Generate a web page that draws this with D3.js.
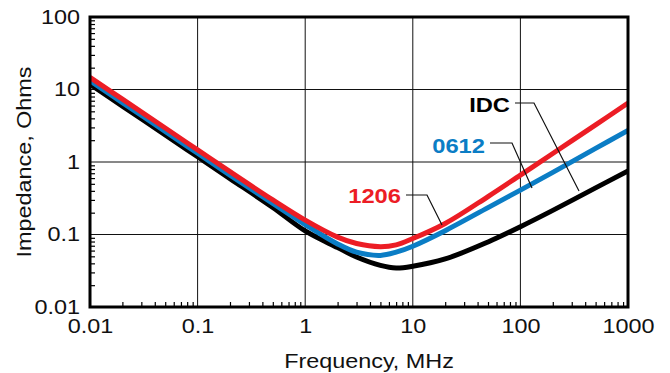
<!DOCTYPE html>
<html>
<head>
<meta charset="utf-8">
<script src="https://cdn.jsdelivr.net/npm/d3@7"></script>
<style>
  body { margin: 0; background: #fff; }
  svg { display: block; }
  text { font-family: "Liberation Sans", Arial, sans-serif; }
</style>
</head>
<body>
<svg id="chart" width="670" height="373"></svg>
<script>
// frequency points, MHz
var freqs = [0.01, 0.02, 0.05, 0.1, 0.2, 0.5, 1, 2, 3, 5, 7, 10, 20, 50, 100, 200, 500, 1000];

// impedance readings, ohms
var z1206 = [14.7, 7.35, 2.94, 1.47, 0.735, 0.30, 0.158, 0.092, 0.075, 0.068, 0.072, 0.088, 0.142, 0.334, 0.66, 1.31, 3.25, 6.5];
var z0612 = [13.2, 6.6, 2.64, 1.32, 0.66, 0.268, 0.137, 0.074, 0.057, 0.0515, 0.057, 0.069, 0.113, 0.235, 0.41, 0.72, 1.54, 2.72];
var zIDC  = [11.8, 5.9, 2.36, 1.18, 0.59, 0.236, 0.112, 0.066, 0.049, 0.0375, 0.0345, 0.0365, 0.046, 0.079, 0.128, 0.215, 0.44, 0.75];

var xTicks = [0.01, 0.1, 1, 10, 100, 1000];
var xTickLabels = ["0.01", "0.1", "1", "10", "100", "1000"];
var yTicks = [0.01, 0.1, 1, 10, 100];
var yTickLabels = ["0.01", "0.1", "1", "10", "100"];

var series = [
    {name: "IDC",  values: zIDC,  color: "#000000"},
    {name: "0612", values: z0612, color: "#0b7dc5"},
    {name: "1206", values: z1206, color: "#ec1d25"}
];

var svg = d3.select("#chart");
var plotLeft = 90, plotRight = 628, plotTop = 17, plotBottom = 307;
var stretch = 1.2;   // the type in the original runs wide

var x = d3.scaleLog().domain([0.01, 1000]).range([plotLeft, plotRight]);
var y = d3.scaleLog().domain([0.01, 100]).range([plotBottom, plotTop]);

// minor tick values 2..9 per decade
var xMinor = [], yMinor = [];
for (var d = 0.01; d < 999; d *= 10) {
    for (var k = 2; k <= 9; k++) xMinor.push(+(d * k).toPrecision(3));
}
for (var d2 = 0.01; d2 < 99; d2 *= 10) {
    for (var k2 = 2; k2 <= 9; k2++) yMinor.push(+(d2 * k2).toPrecision(3));
}

// grid lines at decades
var grid = svg.append("g").attr("stroke", "#111").attr("stroke-width", 1);
grid.selectAll("line.v")
    .data(xTicks.slice(1, -1))
    .enter().append("line")
    .attr("class", "v")
    .attr("x1", function(d) { return x(d); })
    .attr("x2", function(d) { return x(d); })
    .attr("y1", plotTop).attr("y2", plotBottom);
grid.selectAll("line.h")
    .data(yTicks.slice(1, -1))
    .enter().append("line")
    .attr("class", "h")
    .attr("y1", function(d) { return y(d); })
    .attr("y2", function(d) { return y(d); })
    .attr("x1", plotLeft).attr("x2", plotRight);

// minor ticks, pointing inward
svg.append("g")
    .attr("transform", "translate(0," + plotBottom + ")")
    .call(d3.axisBottom(x).tickValues(xMinor).tickSize(-5).tickFormat(""))
    .call(function(g) {
        g.select(".domain").remove();
        g.selectAll("line").attr("stroke", "#000").attr("stroke-width", 1.2);
    });
svg.append("g")
    .attr("transform", "translate(" + plotLeft + ",0)")
    .call(d3.axisLeft(y).tickValues(yMinor).tickSize(-5).tickFormat(""))
    .call(function(g) {
        g.select(".domain").remove();
        g.selectAll("line").attr("stroke", "#000").attr("stroke-width", 1.2);
    });

// curves
var line = d3.line()
    .x(function(d) { return x(d[0]); })
    .y(function(d) { return y(d[1]); })
    .curve(d3.curveCatmullRom.alpha(0.5));

var plot = svg.append("g");
plot.append("clipPath").attr("id", "clip")
    .append("rect").attr("x", plotLeft).attr("y", plotTop)
    .attr("width", plotRight - plotLeft).attr("height", plotBottom - plotTop);

plot.selectAll("path")
    .data(series)
    .enter().append("path")
    .attr("clip-path", "url(#clip)")
    .attr("fill", "none")
    .attr("stroke", function(d) { return d.color; })
    .attr("stroke-width", 5)
    .attr("stroke-linejoin", "round")
    .attr("d", function(d) {
        return line(freqs.map(function(f, i) { return [f, d.values[i]]; }));
    });

// frame
svg.append("rect")
    .attr("x", plotLeft).attr("y", plotTop)
    .attr("width", plotRight - plotLeft).attr("height", plotBottom - plotTop)
    .attr("fill", "none")
    .attr("stroke", "#000")
    .attr("stroke-width", 3);

// tick labels
var xAxis = svg.append("g")
    .attr("transform", "translate(0," + plotBottom + ")")
    .call(d3.axisBottom(x).tickValues(xTicks).tickSize(0)
        .tickFormat(function(d, i) { return xTickLabels[i]; }));
xAxis.select(".domain").remove();
xAxis.selectAll("text")
    .attr("fill", "#111")
    .attr("font-size", 19.5)
    .attr("font-family", "Liberation Sans, Arial, sans-serif")
    .attr("dy", null)
    .attr("y", 26)
    .attr("transform", "scale(" + stretch + ",1)");

var yAxis = svg.append("g")
    .attr("transform", "translate(" + plotLeft + ",0)")
    .call(d3.axisLeft(y).tickValues(yTicks).tickSize(0)
        .tickFormat(function(d, i) { return yTickLabels[i]; }));
yAxis.select(".domain").remove();
yAxis.selectAll("text")
    .attr("fill", "#111")
    .attr("font-size", 19.5)
    .attr("font-family", "Liberation Sans, Arial, sans-serif")
    .attr("x", -10 / stretch)
    .attr("transform", "scale(" + stretch + ",1)");

// axis titles
svg.append("text")
    .attr("transform", "translate(" + ((plotLeft + plotRight) / 2 + 10) + ",368) scale(" + stretch + ",1)")
    .attr("text-anchor", "middle")
    .attr("font-size", 19.5)
    .attr("fill", "#111")
    .text("Frequency, MHz");

svg.append("text")
    .attr("transform", "translate(31," + ((plotTop + plotBottom) / 2) + ") rotate(-90) scale(" + stretch + ",1)")
    .attr("text-anchor", "middle")
    .attr("font-size", 19.5)
    .attr("fill", "#111")
    .text("Impedance, Ohms");

// series labels with leader lines
var labels = [
    {name: "IDC",  color: "#000000", tx: 510, ty: 111.5, path: [[515, 103], [534, 103], [579, 191]]},
    {name: "0612", color: "#0b7dc5", tx: 485, ty: 152.5, path: [[490, 143], [512, 143], [532, 188]]},
    {name: "1206", color: "#ec1d25", tx: 401, ty: 202.5, path: [[406, 195], [427, 195], [442, 225]]}
];

svg.selectAll("path.leader")
    .data(labels)
    .enter().append("path")
    .attr("class", "leader")
    .attr("fill", "none")
    .attr("stroke", "#111")
    .attr("stroke-width", 1.2)
    .attr("d", function(d) { return d3.line()(d.path); });

svg.selectAll("text.series")
    .data(labels)
    .enter().append("text")
    .attr("class", "series")
    .attr("transform", function(d) { return "translate(" + d.tx + "," + d.ty + ") scale(1.13,1)"; })
    .attr("text-anchor", "end")
    .attr("font-size", 21)
    .attr("font-weight", "bold")
    .attr("fill", function(d) { return d.color; })
    .text(function(d) { return d.name; });
</script>
</body>
</html>
